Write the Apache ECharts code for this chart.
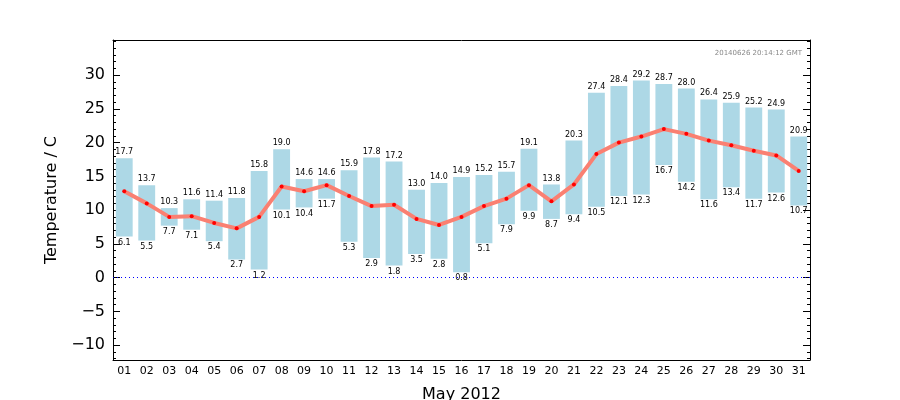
<!DOCTYPE html>
<html><head><meta charset="utf-8">
<script src="https://cdn.jsdelivr.net/npm/echarts@6/dist/echarts.min.js"></script>
<style>body{margin:0}#c{width:900px;height:400px}</style></head>
<body><div id="c"></div>
<script>
const days=[];for(let i=1;i<=31;i++)days.push(String(i).padStart(2,'0'));
const maxT=[17.7,13.7,10.3,11.6,11.4,11.8,15.8,19.0,14.6,14.6,15.9,17.8,17.2,13.0,14.0,14.9,15.2,15.7,19.1,13.8,20.3,27.4,28.4,29.2,28.7,28.0,26.4,25.9,25.2,24.9,20.9];
const minT=[6.1,5.5,7.7,7.1,5.4,2.7,1.2,10.1,10.4,11.7,5.3,2.9,1.8,3.5,2.8,0.8,5.1,7.9,9.9,8.7,9.4,10.5,12.1,12.3,16.7,14.2,11.6,13.4,11.7,12.6,10.7];
const meanT=[12.8,11.0,9.0,9.1,8.1,7.3,9.0,13.5,12.8,13.7,12.1,10.6,10.8,8.7,7.8,9.0,10.6,11.7,13.7,11.3,13.8,18.3,20.0,20.9,22.0,21.3,20.3,19.6,18.8,18.1,15.8];
const yTicks=[-10,-5,0,5,10,15,20,25,30];
const yMinor=[];for(let v=-12;v<=35;v++)yMinor.push(v);
const range=maxT.map((m,i)=>+(m-minT[i]).toFixed(1));
const ch=echarts.init(document.getElementById('c'));
const F='DejaVu Sans';
ch.setOption({
 animation:false,
 grid:{left:113,right:90,top:40,bottom:40,outerBoundsMode:'none',containLabel:false},
 graphic:[{type:'text',right:98,top:50,style:{text:'20140626 20:14:12 GMT',fill:'#888',font:'7px '+F}}],
 xAxis:[{type:'category',data:days,boundaryGap:true,name:'May 2012',nameLocation:'middle',nameGap:27,
   nameTextStyle:{fontFamily:F,fontSize:16,color:'#000'},
   axisLine:{onZero:false,lineStyle:{color:'#000',width:1}},axisTick:{inside:true,alignWithLabel:true,length:5,lineStyle:{color:'#000'}},
   axisLabel:{fontFamily:F,fontSize:11,color:'#000',margin:6,interval:0}},
  {type:'category',data:days,position:'top',axisLine:{onZero:false,lineStyle:{color:'#000'}},axisTick:{inside:true,alignWithLabel:true,length:5,lineStyle:{color:'#000'}},axisLabel:{show:false}}],
 yAxis:[{type:'value',min:-12.2,max:35.2,name:'Temperature / C',nameLocation:'middle',nameGap:48,
   nameTextStyle:{fontFamily:F,fontSize:16,color:'#000'},
   axisLine:{show:true,lineStyle:{color:'#000'}},splitLine:{show:false},
   axisTick:{show:true,inside:true,length:7,customValues:yTicks,lineStyle:{color:'#000'}},
   axisLabel:{fontFamily:F,fontSize:16,color:'#000',customValues:yTicks,formatter:v=>String(v).replace('-','\u2212')}},
  {type:'value',min:-12.2,max:35.2,position:'right',axisLine:{show:true,lineStyle:{color:'#000'}},splitLine:{show:false},
   axisTick:{show:true,inside:true,length:7,customValues:yTicks,lineStyle:{color:'#000'}},axisLabel:{show:false}},
  {type:'value',min:-12.2,max:35.2,position:'left',axisLine:{show:false},splitLine:{show:false},
   axisTick:{show:true,inside:true,length:3,customValues:yMinor,lineStyle:{color:'#000'}},axisLabel:{show:false}},
  {type:'value',min:-12.2,max:35.2,position:'right',axisLine:{show:false},splitLine:{show:false},
   axisTick:{show:true,inside:true,length:3,customValues:yMinor,lineStyle:{color:'#000'}},axisLabel:{show:false}}],
 series:[
  {type:'bar',stack:'t',data:minT,itemStyle:{color:'transparent'},barCategoryGap:'25%',
   label:{show:true,position:'insideTop',distance:2,fontFamily:F,fontSize:8,color:'#000',formatter:p=>minT[p.dataIndex].toFixed(1)},
   markLine:{silent:true,symbol:'none',label:{show:false},lineStyle:{color:'#0000ff',type:[1,3],width:1},data:[{yAxis:0}]}},
  {type:'bar',stack:'t',data:range,itemStyle:{color:'#add8e6'},
   label:{show:true,position:'top',distance:2,fontFamily:F,fontSize:8,color:'#000',formatter:p=>maxT[p.dataIndex].toFixed(1)}},
  {type:'line',data:meanT,symbol:'circle',symbolSize:4,itemStyle:{color:'#ff0000'},lineStyle:{color:'#fa8072',width:4},z:5}
 ]
});
</script></body></html>
